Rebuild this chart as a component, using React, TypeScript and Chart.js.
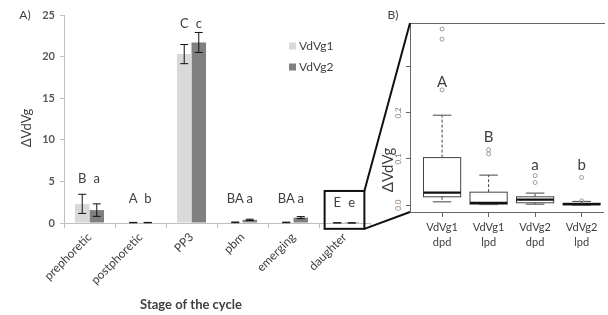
import React, { useEffect, useRef } from "react";
import { Chart, registerables } from "chart.js";

Chart.register(...registerables);

// ---------- Panel A data ----------
const categories = ["prephoretic", "postphoretic", "PP3", "pbm", "emerging", "daughter"];
const seriesNames = ["VdVg1", "VdVg2"];
const vdvg1 = [2.3, 0.05, 20.3, 0.08, 0.07, 0.02];
const vdvg2 = [1.55, 0.05, 21.7, 0.38, 0.65, 0.01];
const err1 = [1.15, 0.02, 1.15, 0.04, 0.03, 0.01];
const err2 = [0.75, 0.02, 1.2, 0.08, 0.12, 0.01];
const letters1 = ["B", "A", "C", "BA", "BA", "E"];
const letters2 = ["a", "b", "c", "a", "a", "e"];
const letterY = [5.3, 2.9, 23.9, 2.9, 2.9, 2.4];
const yTicksA = [0, 5, 10, 15, 20, 25];
const zoomCategory = "daughter";
const zoomYRange = [-0.7, 3.85];

// ---------- Panel B data ----------
const boxLabels = [["VdVg1", "dpd"], ["VdVg1", "lpd"], ["VdVg2", "dpd"], ["VdVg2", "lpd"]];
const boxLow = [0.007, 0.001, 0.002, 0.0];
const boxQ1 = [0.018, 0.002, 0.005, 0.0005];
const boxMedian = [0.027, 0.005, 0.012, 0.002];
const boxQ3 = [0.103, 0.028, 0.018, 0.004];
const boxHigh = [0.195, 0.065, 0.026, 0.008];
const outliers = [[0.25, 0.36, 0.382], [0.12, 0.111], [0.064, 0.049], [0.06, 0.009]];
const lettersB = ["A", "B", "a", "b"];
const lettersBY = [0.267, 0.148, 0.087, 0.087];
const yTicksB = [0, 0.1, 0.2, 0.3];
const yTickLabelsB = ["0.0", "0.1", "0.2", ""];

const FONT = "Lato";
const TEXT = "#404040";
const colors = ["#d9d9d9", "#808080"];

export default function App() {
  const refA = useRef<HTMLCanvasElement>(null);
  const refB = useRef<HTMLCanvasElement>(null);

  useEffect(() => {
    const plugA = {
      id: "decorA",
      afterDatasetsDraw(chart: any) {
        const ctx = chart.ctx;
        const xs = chart.scales.x;
        const ys = chart.scales.y;
        const ca = chart.chartArea;
        ctx.save();
        // error bars
        [err1, err2].forEach((errs, d) => {
          const vals = d === 0 ? vdvg1 : vdvg2;
          const meta = chart.getDatasetMeta(d);
          meta.data.forEach((el: any, i: number) => {
            const top = ys.getPixelForValue(vals[i] + errs[i]);
            const bot = ys.getPixelForValue(Math.max(0, vals[i] - errs[i]));
            ctx.strokeStyle = "#111";
            ctx.lineWidth = 1;
            ctx.beginPath();
            ctx.moveTo(el.x, top);
            ctx.lineTo(el.x, bot);
            ctx.moveTo(el.x - 4, top);
            ctx.lineTo(el.x + 4, top);
            ctx.moveTo(el.x - 4, bot);
            ctx.lineTo(el.x + 4, bot);
            ctx.stroke();
          });
        });
        // significance letters
        ctx.font = `13px ${FONT}`;
        ctx.fillStyle = TEXT;
        ctx.textAlign = "center";
        ctx.textBaseline = "middle";
        const m0 = chart.getDatasetMeta(0);
        const m1 = chart.getDatasetMeta(1);
        categories.forEach((_, i) => {
          const yy = ys.getPixelForValue(letterY[i]);
          ctx.fillText(letters1[i], m0.data[i].x, yy);
          ctx.fillText(letters2[i], m1.data[i].x, yy);
        });
        // legend
        ctx.font = `12px ${FONT}`;
        ctx.textAlign = "left";
        seriesNames.forEach((n, i) => {
          const lx = ca.left + 225;
          const ly = ca.top + 31 + i * 21;
          ctx.fillStyle = colors[i];
          ctx.fillRect(lx, ly - 3.5, 7, 7);
          ctx.fillStyle = TEXT;
          ctx.fillText(n, lx + 10, ly);
        });
        // zoom rectangle
        const idx = categories.indexOf(zoomCategory);
        const cx = xs.getPixelForValue(idx);
        const half = (xs.width / categories.length) * 0.39;
        const rTop = ys.getPixelForValue(zoomYRange[1]);
        const rBot = ys.getPixelForValue(zoomYRange[0]);
        ctx.strokeStyle = "#111";
        ctx.lineWidth = 2;
        ctx.strokeRect(cx - half, rTop, half * 2, rBot - rTop);
        chart.$zoomRect = { right: cx + half, top: rTop, bottom: rBot };
        // titles
        ctx.fillStyle = TEXT;
        ctx.font = `bold 13px ${FONT}`;
        ctx.textAlign = "center";
        ctx.fillText("Stage of the cycle", 191, 305);
        ctx.font = `13px ${FONT}`;
        ctx.save();
        ctx.translate(27, 128);
        ctx.rotate(-Math.PI / 2);
        ctx.fillText("ΔVdVg", 0, 0);
        ctx.restore();
        ctx.font = `12px ${FONT}`;
        ctx.fillText("A)", 25, 15);
        ctx.restore();
      },
    };

    const a = new Chart(refA.current!, {
      type: "bar",
      data: {
        labels: categories,
        datasets: [
          { label: seriesNames[0], data: vdvg1, backgroundColor: colors[0], borderWidth: 0, categoryPercentage: 0.57, barPercentage: 1 },
          { label: seriesNames[1], data: vdvg2, backgroundColor: colors[1], borderWidth: 0, categoryPercentage: 0.57, barPercentage: 1 },
        ],
      },
      options: {
        responsive: false,
        animation: false,
        layout: { padding: { left: 0, top: 15, right: 238, bottom: 0 } },
        plugins: { legend: { display: false }, tooltip: { enabled: false } },
        scales: {
          x: {
            afterFit: (s: any) => { s.height = 92; },
            ticks: { minRotation: 45, maxRotation: 45, autoSkip: false, padding: 2, color: TEXT, font: { family: FONT, size: 12 } },
            grid: { drawOnChartArea: false, tickLength: 5, color: "#bfbfbf", offset: true },
            border: { color: "#bfbfbf" },
          },
          y: {
            min: 0,
            max: 25,
            afterBuildTicks: (s: any) => { s.ticks = yTicksA.map((v) => ({ value: v })); },
            afterFit: (s: any) => { s.width = 64; },
            ticks: { padding: 5, color: "#595959", font: { family: FONT, size: 11, weight: "bold" } },
            grid: { drawOnChartArea: false, tickLength: 4, color: "#bfbfbf" },
            border: { color: "#bfbfbf" },
          },
        },
      },
      plugins: [plugA],
    } as any);

    const plugB = {
      id: "decorB",
      beforeDatasetsDraw(chart: any) {
        const ctx = chart.ctx;
        const xs = chart.scales.x;
        const ys = chart.scales.y;
        const unit = xs.getPixelForValue(2) - xs.getPixelForValue(1);
        ctx.save();
        boxLabels.forEach((_, i) => {
          const cx = xs.getPixelForValue(i + 1);
          const bw = unit * 0.8;
          const cw = unit * 0.4;
          const pLow = ys.getPixelForValue(boxLow[i]);
          const pQ1 = ys.getPixelForValue(boxQ1[i]);
          const pMed = ys.getPixelForValue(boxMedian[i]);
          const pQ3 = ys.getPixelForValue(boxQ3[i]);
          const pHigh = ys.getPixelForValue(boxHigh[i]);
          ctx.strokeStyle = "#444";
          ctx.lineWidth = 1;
          // whiskers dashed
          ctx.setLineDash([3, 2]);
          ctx.beginPath();
          ctx.moveTo(cx, pQ3);
          ctx.lineTo(cx, pHigh);
          ctx.moveTo(cx, pQ1);
          ctx.lineTo(cx, pLow);
          ctx.stroke();
          ctx.setLineDash([]);
          // caps
          ctx.beginPath();
          ctx.moveTo(cx - cw / 2, pHigh);
          ctx.lineTo(cx + cw / 2, pHigh);
          ctx.moveTo(cx - cw / 2, pLow);
          ctx.lineTo(cx + cw / 2, pLow);
          ctx.stroke();
          // box
          ctx.fillStyle = "#fff";
          ctx.fillRect(cx - bw / 2, pQ3, bw, pQ1 - pQ3);
          ctx.strokeRect(cx - bw / 2, pQ3, bw, pQ1 - pQ3);
          // median
          ctx.lineWidth = 2.2;
          ctx.strokeStyle = "#111";
          ctx.beginPath();
          ctx.moveTo(cx - bw / 2, pMed);
          ctx.lineTo(cx + bw / 2, pMed);
          ctx.stroke();
        });
        ctx.restore();
      },
      afterDraw(chart: any) {
        const ctx = chart.ctx;
        const xs = chart.scales.x;
        const ys = chart.scales.y;
        const ca = chart.chartArea;
        ctx.save();
        // top border of the box panel
        ctx.strokeStyle = "#666";
        ctx.lineWidth = 1;
        ctx.beginPath();
        ctx.moveTo(ca.left, ca.top + 0.5);
        ctx.lineTo(ca.right + 2, ca.top + 0.5);
        ctx.stroke();
        // letters
        ctx.fillStyle = TEXT;
        ctx.font = `15px ${FONT}`;
        ctx.textAlign = "center";
        ctx.textBaseline = "middle";
        lettersB.forEach((l, i) => {
          ctx.fillText(l, xs.getPixelForValue(i + 1), ys.getPixelForValue(lettersBY[i]));
        });
        // y title
        ctx.save();
        ctx.translate(388, 170);
        ctx.rotate(-Math.PI / 2);
        ctx.font = `15px ${FONT}`;
        ctx.fillText("ΔVdVg", 0, 0);
        ctx.restore();
        ctx.font = `12px ${FONT}`;
        ctx.fillText("B)", 393, 15);
        // zoom connecting lines
        const zr = a && (a as any).$zoomRect;
        if (zr) {
          ctx.strokeStyle = "#111";
          ctx.lineWidth = 2;
          ctx.beginPath();
          ctx.moveTo(zr.right, zr.top);
          ctx.lineTo(ca.left, ca.top);
          ctx.moveTo(zr.right, zr.bottom);
          ctx.lineTo(ca.left, ca.bottom);
          ctx.stroke();
        }
        ctx.restore();
      },
    };

    const scatterData: { x: number; y: number }[] = [];
    outliers.forEach((arr, i) => arr.forEach((v) => scatterData.push({ x: i + 1, y: v })));

    const b = new Chart(refB.current!, {
      type: "scatter",
      data: {
        datasets: [
          {
            label: "outliers",
            data: scatterData,
            pointRadius: 2,
            pointBorderWidth: 1,
            borderColor: "#999999",
            backgroundColor: "rgba(0,0,0,0)",
          },
        ],
      },
      options: {
        responsive: false,
        animation: false,
        layout: { padding: { left: 378, top: 23, right: 0, bottom: 0 } },
        plugins: { legend: { display: false }, tooltip: { enabled: false } },
        scales: {
          x: {
            type: "linear",
            min: 0.31,
            max: 4.46,
            afterBuildTicks: (s: any) => { s.ticks = boxLabels.map((_, i) => ({ value: i + 1 })); },
            afterFit: (s: any) => { s.height = 103; },
            ticks: {
              autoSkip: false,
              maxRotation: 0,
              padding: 3,
              color: TEXT,
              font: { family: FONT, size: 11, lineHeight: 1.35 },
              callback: (v: any) => boxLabels[Math.round(v) - 1],
            },
            grid: { drawOnChartArea: false, tickLength: 5, color: "#666" },
            border: { color: "#666" },
          },
          y: {
            min: -0.015,
            max: 0.395,
            afterBuildTicks: (s: any) => { s.ticks = yTicksB.map((v) => ({ value: v })); },
            afterFit: (s: any) => { s.width = 32; },
            ticks: {
              minRotation: 90,
              maxRotation: 90,
              crossAlign: "center",
              padding: 2,
              color: "#8c7b6b",
              font: { family: FONT, size: 8 },
              callback: (v: any) => yTickLabelsB[yTicksB.findIndex((t) => Math.abs(t - v) < 1e-9)] ?? "",
            },
            grid: { drawOnChartArea: false, tickLength: 4, color: "#666" },
            border: { color: "#666" },
          },
        },
      },
      plugins: [plugB],
    } as any);

    return () => {
      b.destroy();
      a.destroy();
    };
  }, []);

  return (
    <div style={{ position: "absolute", left: 0, top: 0, width: 608, height: 315, background: "#fff" }}>
      <canvas ref={refA} width={608} height={315} style={{ position: "absolute", left: 0, top: 0 }} />
      <canvas ref={refB} width={608} height={315} style={{ position: "absolute", left: 0, top: 0 }} />
    </div>
  );
}
